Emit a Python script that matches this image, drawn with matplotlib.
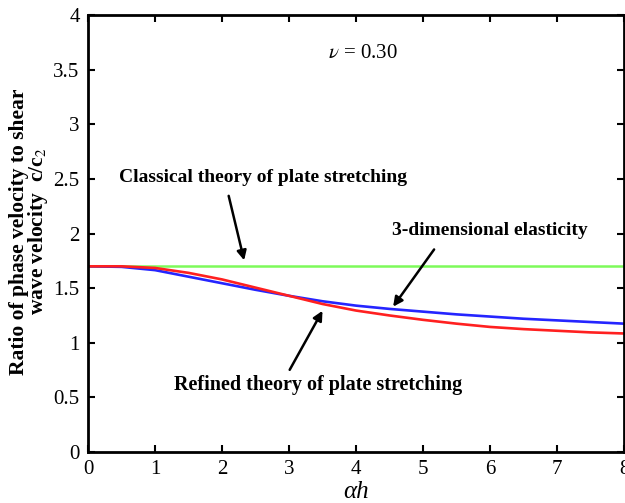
import numpy as np
import matplotlib
matplotlib.use("Agg")
import matplotlib.pyplot as plt

# ── Data ────────────────────────────────────────────────────────────────────
alpha_h = [0, 0.5, 1, 1.5, 2, 2.5, 3, 3.5, 4, 4.5, 5, 5.5, 6, 6.5, 7, 7.5, 8]
elastic_3d = [1.70, 1.695, 1.665, 1.605, 1.545, 1.485, 1.43, 1.38, 1.34, 1.31,
              1.285, 1.26, 1.24, 1.22, 1.205, 1.19, 1.175]
refined = [1.70, 1.70, 1.685, 1.64, 1.58, 1.505, 1.43, 1.355, 1.295, 1.25,
           1.21, 1.175, 1.145, 1.125, 1.11, 1.095, 1.085]
classical = 1.70

xticks = [0, 1, 2, 3, 4, 5, 6, 7, 8]
yticks = [0, 0.5, 1, 1.5, 2, 2.5, 3, 3.5, 4]
ytick_labels = ["0", "0.5", "1", "1.5", "2", "2.5", "3", "3.5", "4"]

plt.rcParams["font.family"] = ["Liberation Serif", "DejaVu Serif"]
plt.rcParams["mathtext.fontset"] = "stix"

fig = plt.figure(figsize=(6.25, 5.03), dpi=100)
ax = fig.add_axes([0.1408, 0.1014, 0.8576, 0.8686])

ax.plot([0, 8], [classical, classical], color="#7dfa5a", linewidth=1.8)
ax.plot(alpha_h, elastic_3d, color="#2525ff", linewidth=1.9)
ax.plot(alpha_h, refined, color="#ff2020", linewidth=1.9)

ax.set_xlim(0, 8)
ax.set_ylim(0, 4)
ax.set_xticks(xticks)
ax.set_yticks(yticks)
ax.set_yticklabels(ytick_labels)
ax.tick_params(direction="in", top=True, right=True, length=5, width=1.5,
               labelsize=15, pad=6)
for sp in ax.spines.values():
    sp.set_linewidth(2)

ax.set_xlabel("αh", fontsize=18, style="italic", labelpad=1)
ax.set_ylabel("Ratio of phase velocity to shear\nwave velocity  c/c$_2$",
              fontsize=15.5, fontweight="semibold", linespacing=0.85)
ax.yaxis.set_label_coords(-0.07, 0.505)

ax.text(4.1, 3.65, r"$\nu$ = 0.30", fontsize=15, ha="center", va="center")

arrow = dict(arrowstyle="-|>", color="black", lw=1.8, mutation_scale=14)
ax.text(2.62, 2.51, "Classical theory of plate stretching", fontsize=14,
        fontweight="bold", ha="center", va="center")
ax.annotate("", xy=(2.34, 1.73), xytext=(2.09, 2.37), arrowprops=arrow)
ax.text(6.0, 2.03, "3-dimensional elasticity", fontsize=14,
        fontweight="bold", ha="center", va="center")
ax.annotate("", xy=(4.53, 1.31), xytext=(5.19, 1.875), arrowprops=arrow)
ax.text(3.43, 0.61, "Refined theory of plate stretching", fontsize=14.5,
        fontweight="bold", ha="center", va="center")
ax.annotate("", xy=(3.52, 1.315), xytext=(2.99, 0.73), arrowprops=arrow)

fig.savefig("out.png", dpi=100)
